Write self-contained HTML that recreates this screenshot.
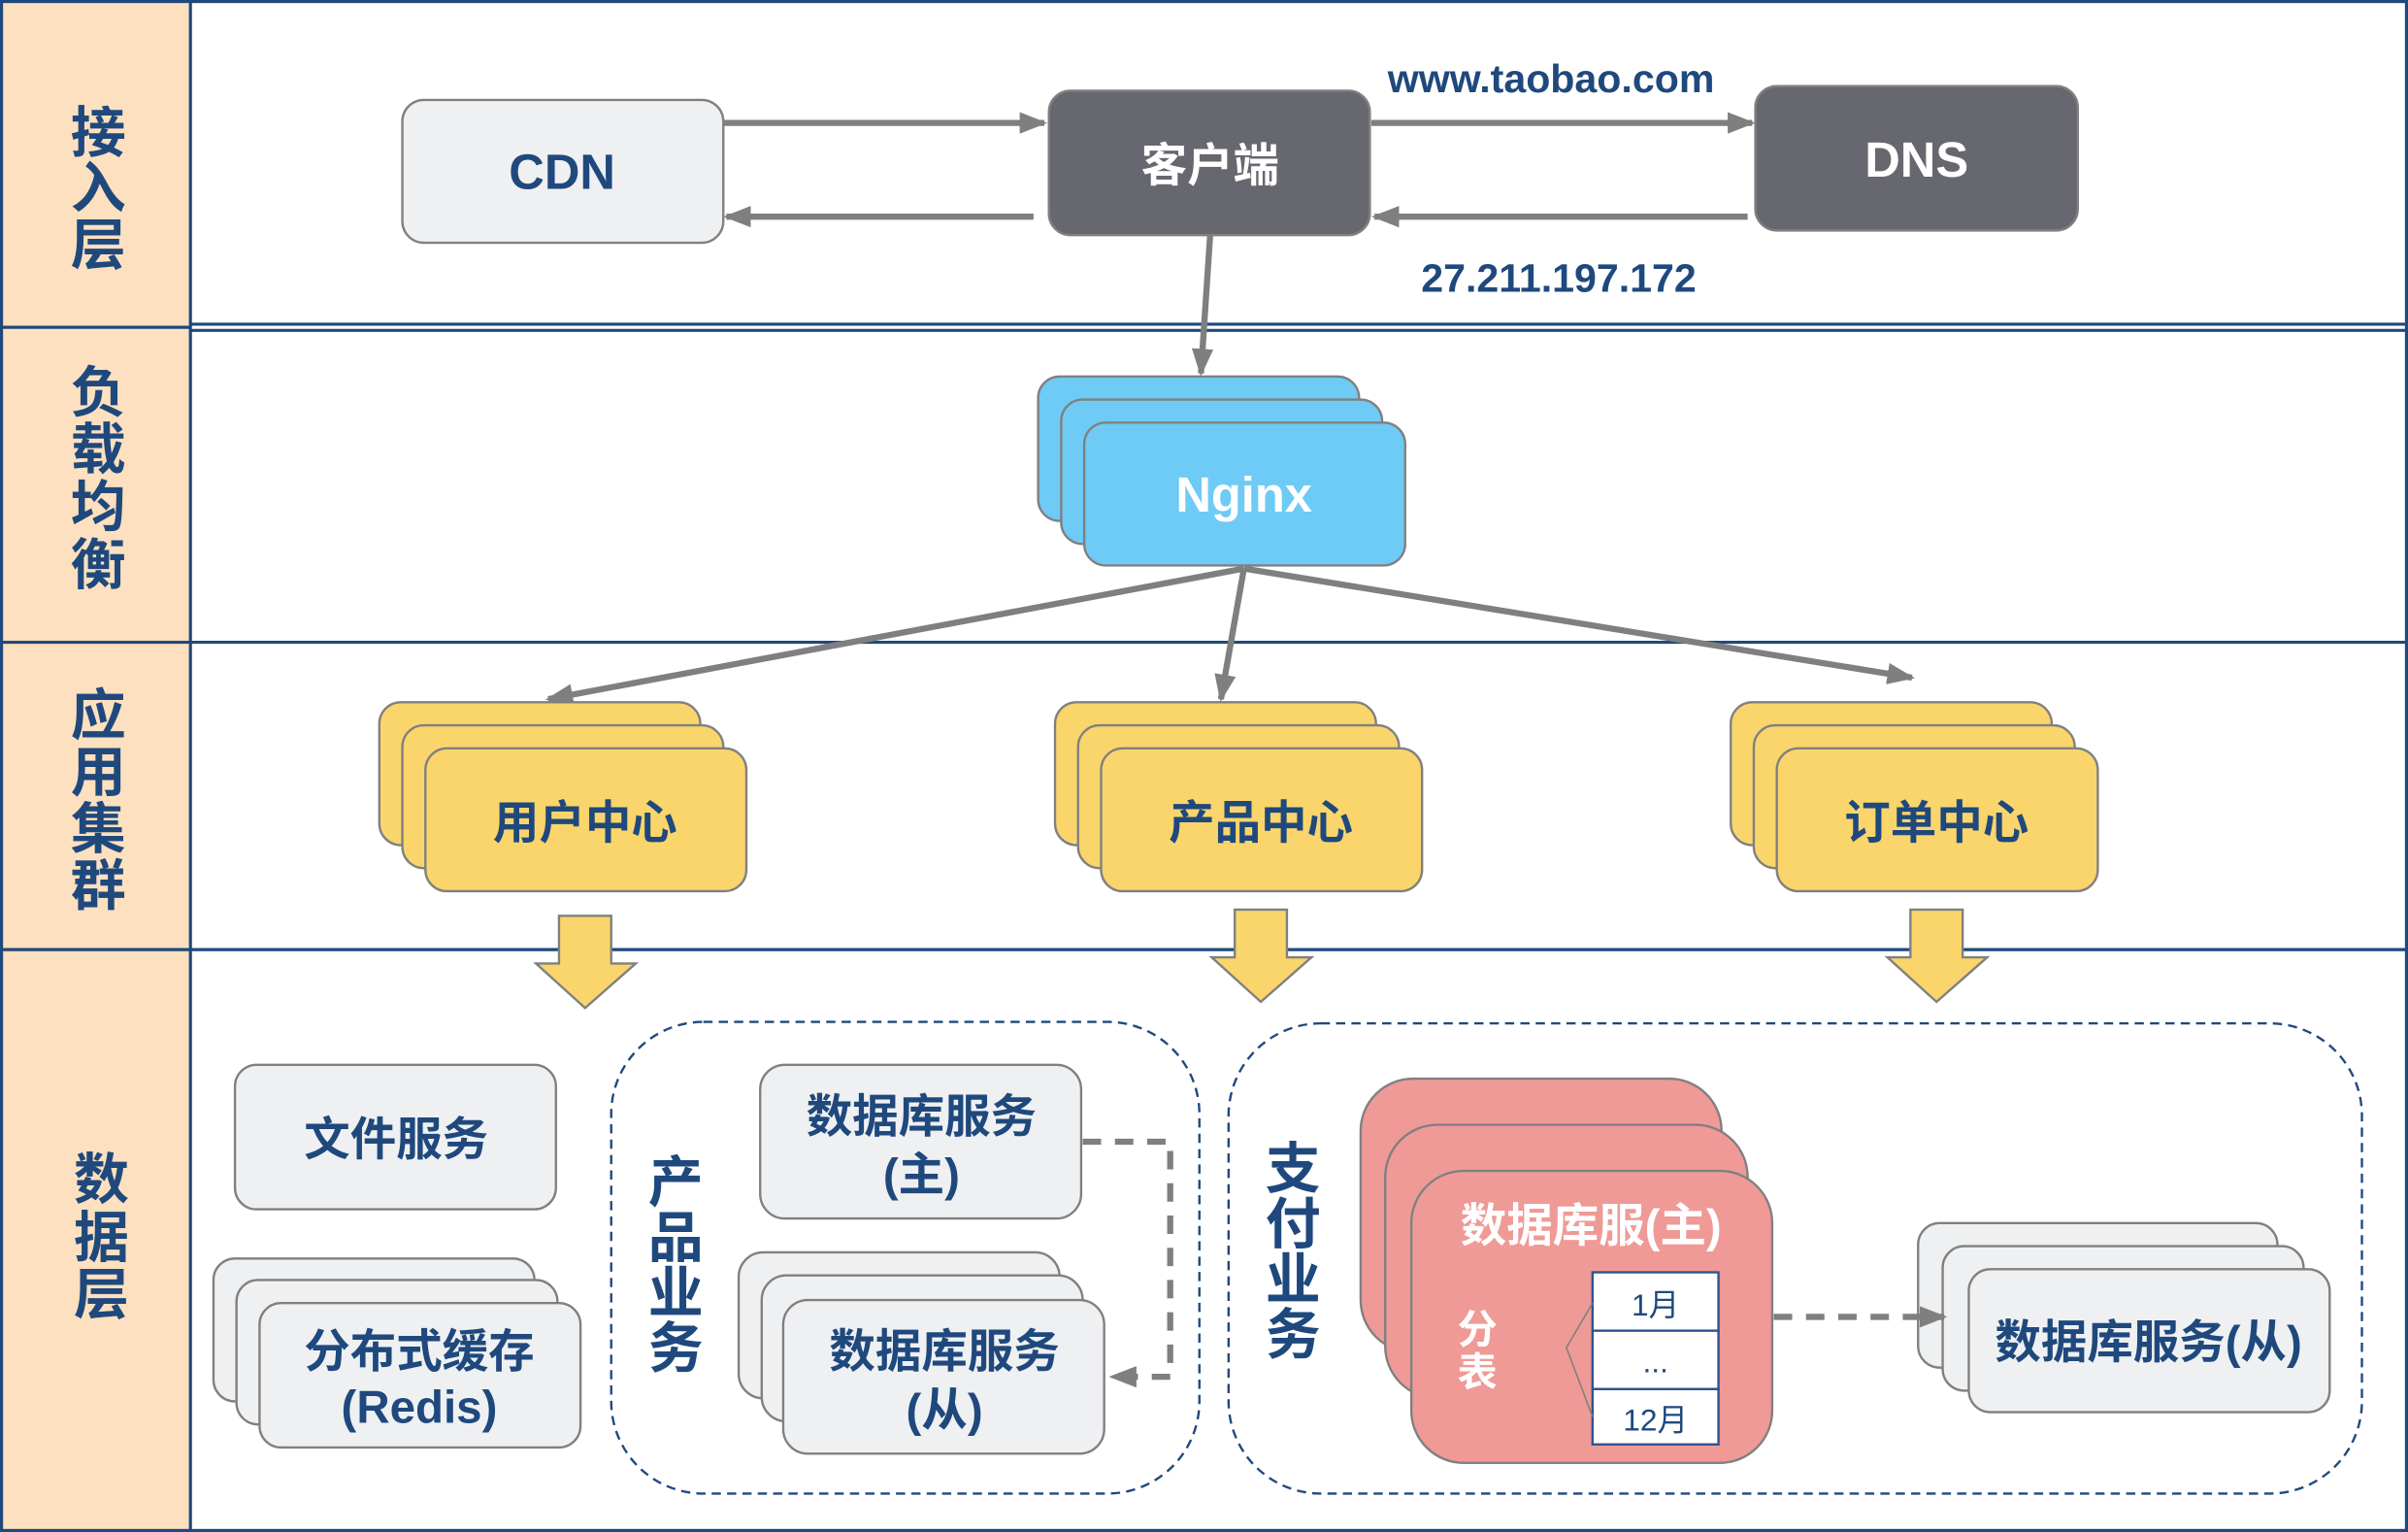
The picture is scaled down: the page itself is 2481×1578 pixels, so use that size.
<!DOCTYPE html>
<html><head><meta charset="utf-8"><style>
html,body{margin:0;padding:0;background:#fff}
svg{display:block}
text{font-family:"Liberation Sans","Noto Sans CJK SC",sans-serif;font-weight:bold}
</style></head><body>
<svg width="2481" height="1578" viewBox="0 0 1568 997" preserveAspectRatio="none" xmlns="http://www.w3.org/2000/svg">
<defs>
<marker id="ar2" markerWidth="18" markerHeight="14" refX="16" refY="7" orient="auto" markerUnits="userSpaceOnUse" viewBox="0 0 18 14"><path d="M0,0 L18,7 L0,14 z" fill="#7f7f7f"/></marker>
</defs>
<rect x="0" y="0" width="1568" height="997" fill="#fff"/>
<rect x="1" y="1" width="123" height="995" fill="#fde0bf"/>
<g stroke="#1f497d" stroke-width="2" fill="none">
<rect x="1" y="1" width="1566" height="995"/>
<line x1="124" y1="1" x2="124" y2="996"/>
<line x1="1" y1="213" x2="124" y2="213"/>
<line x1="124" y1="211" x2="1567" y2="211"/>
<line x1="124" y1="215" x2="1567" y2="215"/>
<line x1="1" y1="418" x2="1567" y2="418"/>
<line x1="1" y1="618" x2="1567" y2="618"/>
</g>
<g fill="#1f497d" font-size="36" text-anchor="middle">
<text x="64" y="99">接</text><text x="64" y="135">入</text><text x="64" y="172">层</text>
<text x="64" y="268">负</text><text x="64" y="305">载</text><text x="64" y="342">均</text><text x="64" y="380">衡</text>
<text x="64" y="478">应</text><text x="64" y="515">用</text><text x="64" y="552">集</text><text x="64" y="589">群</text>
<text x="66" y="780">数</text><text x="66" y="818">据</text><text x="66" y="855">层</text>
</g>
<rect x="262" y="65" width="209" height="93" rx="14" fill="#eff0f2" stroke="#808080" stroke-width="1.5"/>
<text x="366" y="123" font-size="32" fill="#1f497d" text-anchor="middle">CDN</text>
<rect x="683" y="59" width="209" height="94" rx="14" fill="#676770" stroke="#808080" stroke-width="1.5"/>
<text x="788" y="118" font-size="30" fill="#fff" text-anchor="middle">客户端</text>
<rect x="1143" y="56" width="210" height="94" rx="14" fill="#676770" stroke="#808080" stroke-width="1.5"/>
<text x="1248" y="115" font-size="32" fill="#fff" text-anchor="middle">DNS</text>
<g stroke="#7f7f7f" stroke-width="4" fill="none">
<line x1="471" y1="80" x2="680" y2="80" marker-end="url(#ar2)"/>
<line x1="673" y1="141" x2="473" y2="141" marker-end="url(#ar2)"/>
<line x1="893" y1="80" x2="1141" y2="80" marker-end="url(#ar2)"/>
<line x1="1138" y1="141" x2="895" y2="141" marker-end="url(#ar2)"/>
<line x1="788" y1="153" x2="782" y2="243" marker-end="url(#ar2)"/>
</g>
<text x="1010" y="60" font-size="26" fill="#1f497d" text-anchor="middle">www.taobao.com</text>
<text x="1015" y="190" font-size="26" fill="#1f497d" text-anchor="middle">27.211.197.172</text>
<g fill="#6ecbf5" stroke="#808080" stroke-width="1.5">
<rect x="676" y="245" width="209" height="94" rx="14"/>
<rect x="691" y="260" width="209" height="94" rx="14"/>
<rect x="706" y="275" width="209" height="93" rx="14"/>
</g>
<text x="810" y="333" font-size="32" fill="#fff" text-anchor="middle">Nginx</text>
<g stroke="#7f7f7f" stroke-width="4" fill="none">
<line x1="810" y1="370" x2="357" y2="455" marker-end="url(#ar2)"/>
<line x1="810" y1="370" x2="795" y2="455" marker-end="url(#ar2)"/>
<line x1="810" y1="370" x2="1245" y2="441" marker-end="url(#ar2)"/>
</g>
<g fill="#fad56b" stroke="#808080" stroke-width="1.5">
<rect x="247" y="457" width="209" height="93" rx="14"/><rect x="262" y="472" width="209" height="93" rx="14"/><rect x="277" y="487" width="209" height="93" rx="14"/>
<rect x="687" y="457" width="209" height="93" rx="14"/><rect x="702" y="472" width="209" height="93" rx="14"/><rect x="717" y="487" width="209" height="93" rx="14"/>
<rect x="1127" y="457" width="209" height="93" rx="14"/><rect x="1142" y="472" width="209" height="93" rx="14"/><rect x="1157" y="487" width="209" height="93" rx="14"/>
</g>
<g fill="#1f497d" font-size="30" text-anchor="middle">
<text x="381" y="546">用户中心</text><text x="821" y="546">产品中心</text><text x="1261" y="546">订单中心</text>
</g>
<g fill="#fad56b" stroke="#808080" stroke-width="1.5">
<path d="M364,596 H398 V627 H414 L381,656 L349,627 H364 Z"/>
<path d="M804,592 H838 V623 H854 L821,652 L789,623 H804 Z"/>
<path d="M1244,592 H1278 V623 H1294 L1261,652 L1229,623 H1244 Z"/>
</g>
<rect x="153" y="693" width="209" height="94" rx="14" fill="#eff0f2" stroke="#808080" stroke-width="1.5"/>
<text x="258" y="752" font-size="30" fill="#1f497d" text-anchor="middle">文件服务</text>
<g fill="#eff0f2" stroke="#808080" stroke-width="1.5">
<rect x="139" y="819" width="209" height="93" rx="14"/><rect x="154" y="833" width="209" height="94" rx="14"/><rect x="169" y="848" width="209" height="94" rx="14"/>
</g>
<text x="273" y="890" font-size="30" fill="#1f497d" text-anchor="middle">分布式缓存</text>
<text x="273" y="926" font-size="30" fill="#1f497d" text-anchor="middle">(Redis)</text>
<rect x="398" y="665" width="383" height="307" rx="60" fill="none" stroke="#1f497d" stroke-width="1.5" stroke-dasharray="6,4"/>
<g fill="#1f497d" font-size="36" text-anchor="middle">
<text x="440" y="782">产</text><text x="440" y="818">品</text><text x="440" y="854">业</text><text x="440" y="890">务</text>
</g>
<rect x="495" y="693" width="209" height="100" rx="16" fill="#eff0f2" stroke="#808080" stroke-width="1.5"/>
<text x="600" y="737" font-size="30" fill="#1f497d" text-anchor="middle">数据库服务</text>
<text x="600" y="775" font-size="30" fill="#1f497d" text-anchor="middle">(主)</text>
<g fill="#eff0f2" stroke="#808080" stroke-width="1.5">
<rect x="481" y="815" width="209" height="95" rx="16"/><rect x="496" y="830" width="209" height="95" rx="16"/><rect x="510" y="846" width="209" height="100" rx="16"/>
</g>
<text x="615" y="890" font-size="30" fill="#1f497d" text-anchor="middle">数据库服务</text>
<text x="615" y="928" font-size="30" fill="#1f497d" text-anchor="middle">(从)</text>
<path d="M705,743 H762 V896 H724" fill="none" stroke="#7f7f7f" stroke-width="4" stroke-dasharray="12,9" marker-end="url(#ar2)"/>
<rect x="800" y="666" width="738" height="306" rx="60" fill="none" stroke="#1f497d" stroke-width="1.5" stroke-dasharray="6,4"/>
<g fill="#1f497d" font-size="36" text-anchor="middle">
<text x="842" y="773">支</text><text x="842" y="809">付</text><text x="842" y="845">业</text><text x="842" y="881">务</text>
</g>
<g fill="#ef9a96" stroke="#808080" stroke-width="1.5">
<rect x="886" y="702" width="235" height="178" rx="34"/><rect x="902" y="732" width="236" height="178" rx="34"/><rect x="919" y="762" width="235" height="190" rx="34"/>
</g>
<text x="1036" y="808" font-size="30" fill="#fff" text-anchor="middle">数据库服(主)</text>
<text x="962" y="874" font-size="26" fill="#fff" text-anchor="middle">分</text>
<text x="962" y="902" font-size="26" fill="#fff" text-anchor="middle">表</text>
<g fill="#fff" stroke="#2f528f" stroke-width="1.5">
<rect x="1037" y="828" width="82" height="38"/><rect x="1037" y="866" width="82" height="38"/><rect x="1037" y="904" width="82" height="36"/>
</g>
<path d="M1037,848 L1020,877 L1037,922" fill="none" stroke="#808080" stroke-width="1"/>
<g fill="#1f497d" font-size="20" text-anchor="middle">
<text x="1078" y="856" style="font-weight:normal">1月</text><text x="1078" y="893" style="font-weight:normal">...</text><text x="1078" y="931" style="font-weight:normal">12月</text>
</g>
<g fill="#eff0f2" stroke="#808080" stroke-width="1.5">
<rect x="1249" y="796" width="234" height="94" rx="14"/><rect x="1265" y="811" width="235" height="94" rx="14"/><rect x="1282" y="826" width="235" height="93" rx="14"/>
</g>
<line x1="1155" y1="857" x2="1266" y2="857" stroke="#7f7f7f" stroke-width="4" stroke-dasharray="12,9" marker-end="url(#ar2)"/>
<text x="1399" y="884" font-size="30" fill="#1f497d" text-anchor="middle">数据库服务(从)</text>
</svg>
</body></html>
